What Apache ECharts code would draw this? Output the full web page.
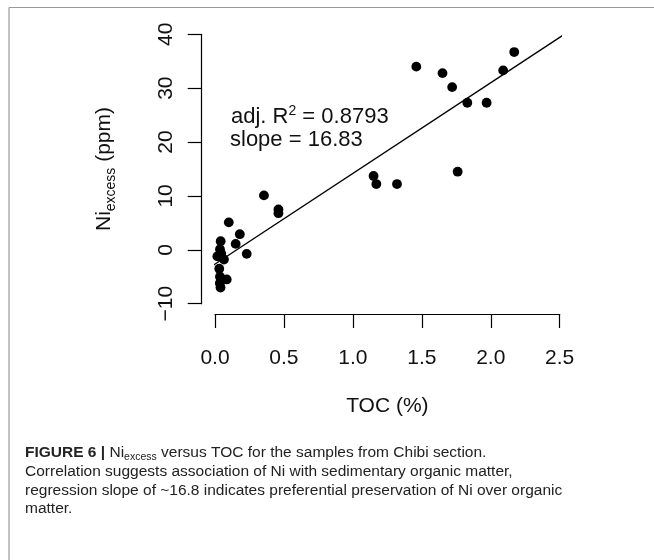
<!DOCTYPE html>
<html>
<head>
<meta charset="utf-8">
<script src="https://cdn.jsdelivr.net/npm/echarts@6/dist/echarts.min.js"></script>
<style>
html,body{margin:0;padding:0;background:#fff;}
#chart{width:654px;height:560px;}
</style>
</head>
<body>
<div id="chart"></div>
<script>
// TOC (%) values of the samples
var tocValues = [1.46, 1.65, 1.72, 1.83, 1.97, 2.09, 2.17, 1.76, 1.15, 1.17, 1.32,
  0.355, 0.46, 0.46, 0.10, 0.18, 0.15, 0.23, 0.041, 0.036, 0.017, 0.045, 0.065,
  0.031, 0.036, 0.085, 0.035, 0.04];
// Ni excess (ppm) values of the samples
var niExcessValues = [34.0, 32.8, 30.2, 27.3, 27.3, 33.3, 36.7, 14.5, 13.7, 12.2, 12.2,
  10.1, 7.5, 6.8, 5.1, 2.9, 1.1, -0.75, 1.6, 0.1, -1.2, -0.7, -1.8,
  -3.5, -5.0, -5.5, -6.2, -7.0];
// regression fit
var fitSlope = 16.83;
var fitIntercept = -2.65;
var fitXRange = [-0.1, 2.6];
// axis ticks
var xTicks = [0.0, 0.5, 1.0, 1.5, 2.0, 2.5];
var yTicks = [-10, 0, 10, 20, 30, 40];

var points = tocValues.map(function (x, i) { return [x, niExcessValues[i]]; });
var fitLine = fitXRange.map(function (x) { return [x, fitIntercept + fitSlope * x]; });

var FONT = '"Liberation Sans", Arial, Helvetica, sans-serif';
var CAP = 15.5;
var chart = echarts.init(document.getElementById('chart'), null, {renderer: 'canvas'});
chart.setOption({
  animation: false,
  backgroundColor: '#fff',
  grid: {left: 215, right: 94.3, top: 34.3, bottom: 256.3, containLabel: false},
  xAxis: {
    type: 'value',
    min: xTicks[0], max: xTicks[xTicks.length - 1], interval: 0.5,
    offset: 10.3,
    name: 'TOC (%)',
    nameLocation: 'middle',
    nameGap: 82,
    nameTextStyle: {fontFamily: FONT, fontSize: 21, color: '#111', verticalAlign: 'top'},
    axisLine: {show: true, onZero: false, lineStyle: {color: '#000', width: 1.2}},
    axisTick: {show: true, inside: false, length: 14, lineStyle: {color: '#000', width: 1.2}},
    axisLabel: {margin: 33.5, fontFamily: FONT, fontSize: 21, color: '#111',
      formatter: function (v) { return v.toFixed(1); }},
    splitLine: {show: false}
  },
  yAxis: {
    type: 'value',
    min: yTicks[0], max: yTicks[yTicks.length - 1], interval: 10,
    offset: 13.3,
    name: '{n|Ni}{s|excess}{n| (ppm)}',
    nameLocation: 'middle',
    nameGap: 84,
    nameRotate: 90,
    nameTextStyle: {
      fontFamily: FONT, fontSize: 21, color: '#111',
      rich: {
        n: {fontFamily: FONT, fontSize: 21, color: '#111', lineHeight: 26},
        s: {fontFamily: FONT, fontSize: 14, color: '#111', lineHeight: 14, verticalAlign: 'bottom'}
      }
    },
    axisLine: {show: true, onZero: false, lineStyle: {color: '#000', width: 1.2}},
    axisTick: {show: true, inside: false, length: 14, lineStyle: {color: '#000', width: 1.2}},
    axisLabel: {rotate: 90, margin: 25, fontFamily: FONT, fontSize: 21, color: '#111',
      formatter: function (v) { return v < 0 ? '\u2212' + Math.abs(v) : String(v); }},
    splitLine: {show: false}
  },
  series: [
    {
      type: 'line',
      data: fitLine,
      clip: false,
      showSymbol: false,
      symbol: 'none',
      lineStyle: {color: '#000', width: 1.3},
      silent: true,
      z: 2
    },
    {
      type: 'scatter',
      data: points,
      symbol: 'circle',
      symbolSize: 9.8,
      itemStyle: {color: '#000', opacity: 1},
      z: 3
    }
  ],
  graphic: [
    {type: 'line', shape: {x1: 9, y1: 7.5, x2: 654, y2: 7.5}, style: {stroke: '#9a9a9a', lineWidth: 1.2}, silent: true},
    {type: 'line', shape: {x1: 9, y1: 7.5, x2: 9, y2: 560}, style: {stroke: '#9a9a9a', lineWidth: 1.2}, silent: true},
    {
      type: 'text', left: 231, top: 104,
      style: {
        text: '{n|adj. R}{p|2}{n| = 0.8793}',
        rich: {
          n: {fontFamily: FONT, fontSize: 22, fill: '#111', lineHeight: 26},
          p: {fontFamily: FONT, fontSize: 14, fill: '#111', lineHeight: 14, verticalAlign: 'top'}
        }
      }
    },
    {
      type: 'text', left: 230, top: 129,
      style: {text: 'slope = 16.83', fontFamily: FONT, fontSize: 22, fill: '#111'}
    },
    {
      type: 'text', left: 25, top: 445,
      style: {
        text: '{b|FIGURE 6 | }{n|Ni}{s|excess}{n| versus TOC for the samples from Chibi section.}',
        rich: {
          b: {fontFamily: FONT, fontSize: CAP, fontWeight: 'bold', fill: '#222', lineHeight: 19},
          n: {fontFamily: FONT, fontSize: CAP, fill: '#222', lineHeight: 19},
          s: {fontFamily: FONT, fontSize: 10.5, fill: '#222', lineHeight: 10, verticalAlign: 'bottom'}
        }
      }
    },
    {
      type: 'text', left: 25, top: 464,
      style: {text: 'Correlation suggests association of Ni with sedimentary organic matter,', fontFamily: FONT, fontSize: CAP, fill: '#222'}
    },
    {
      type: 'text', left: 25, top: 482.5,
      style: {text: 'regression slope of ~16.8 indicates preferential preservation of Ni over organic', fontFamily: FONT, fontSize: CAP, fill: '#222'}
    },
    {
      type: 'text', left: 25, top: 501,
      style: {text: 'matter.', fontFamily: FONT, fontSize: CAP, fill: '#222'}
    }
  ]
});
</script>
</body>
</html>
